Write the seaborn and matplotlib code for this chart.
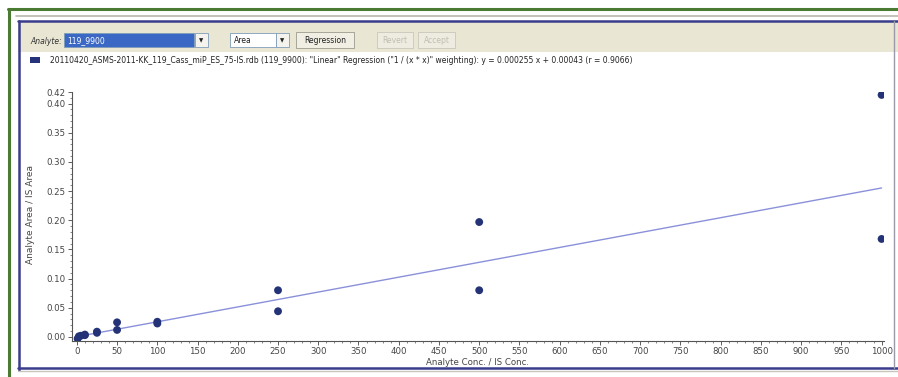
import matplotlib
matplotlib.use("Agg")
import matplotlib.pyplot as plt
from matplotlib.patches import Rectangle
from matplotlib.lines import Line2D
import numpy as np
import pandas as pd
import seaborn as sns

# ---- data ----
conc = [1, 2.5, 5, 10, 10, 25, 25, 50, 50, 100, 100, 250, 250, 500, 500, 1000, 1000]
ratio = [-0.003, 0.001, 0.002, 0.003, 0.004, 0.007, 0.009, 0.025, 0.012, 0.026, 0.023,
         0.080, 0.044, 0.197, 0.080, 0.415, 0.168]
fit_slope = 0.000255
fit_intercept = 0.00043
fit_range = [0, 1000]
x_ticks = list(range(0, 1001, 50))
y_ticks = [0.00, 0.05, 0.10, 0.15, 0.20, 0.25, 0.30, 0.35, 0.40, 0.42]
legend_text = ('20110420_ASMS-2011-KK_119_Cass_miP_ES_75-IS.rdb (119_9900): "Linear" Regression '
               '("1 / (x * x)" weighting): y = 0.000255 x + 0.00043 (r = 0.9066)')

sns.set_theme(style="white")
plt.rcParams['font.family'] = ['DejaVu Sans']

W, H = 898, 377
fig = plt.figure(figsize=(W / 100, H / 100), dpi=100)
fig.patch.set_facecolor("white")

def fx(x):
    return x / W

def fy(y):
    return 1 - y / H

def rect(x0, y0, x1, y1, fc, ec="none", lw=0.0, z=0):
    fig.patches.append(Rectangle((fx(x0), fy(y1)), fx(x1) - fx(x0), fy(y0) - fy(y1),
                                 transform=fig.transFigure, facecolor=fc, edgecolor=ec,
                                 linewidth=lw, zorder=z))

def hline(x0, x1, y, c, lw):
    fig.lines.append(Line2D([fx(x0), fx(x1)], [fy(y), fy(y)], transform=fig.transFigure,
                            color=c, linewidth=lw))

def vline(x, y0, y1, c, lw):
    fig.lines.append(Line2D([fx(x), fx(x)], [fy(y0), fy(y1)], transform=fig.transFigure,
                            color=c, linewidth=lw))

green = "#4b7a32"
navy = "#3a3d8c"
beige = "#e9e6d4"

# outer green frame
hline(8, 898, 9, green, 2.2)
vline(9, 9, 377, green, 2.2)
# window
hline(16, 898, 16, "#b9b7ab", 1.2)
rect(18, 21, 898, 52, beige)
hline(18, 898, 21, navy, 1.8)
vline(19, 21, 370, navy, 1.8)
hline(18, 898, 368, navy, 1.8)
hline(18, 898, 371, "#c8c6bc", 1.0)
vline(894, 21, 368, "#9a9aa8", 1.0)

# toolbar widgets
fig.text(fx(30), fy(41), "Analyte:", fontsize=5.5, va="center", ha="left", color="#333333",
         style="italic")
rect(64, 33, 194, 47, "#3b68c4", ec="#7f9db9", lw=0.6)
fig.text(fx(67), fy(40.5), "119_9900", fontsize=5.5, va="center", ha="left", color="white")
rect(195, 33, 208, 47, "#f4f3ee", ec="#7f9db9", lw=0.6)
fig.text(fx(201.5), fy(40.5), "▼", fontsize=4, va="center", ha="center", color="#222222")
rect(230, 33, 276, 47, "white", ec="#7f9db9", lw=0.6)
fig.text(fx(234), fy(40.5), "Area", fontsize=5.5, va="center", ha="left", color="#222222")
rect(276, 33, 289, 47, "#f4f3ee", ec="#7f9db9", lw=0.6)
fig.text(fx(282.5), fy(40.5), "▼", fontsize=4, va="center", ha="center", color="#222222")
rect(296, 32, 354, 48, "#f1efe4", ec="#9c9a8c", lw=0.6)
fig.text(fx(325), fy(40.5), "Regression", fontsize=5.5, va="center", ha="center", color="#222222")
rect(377, 32, 413, 48, "#eeece1", ec="#c9c7ba", lw=0.6)
fig.text(fx(395), fy(40.5), "Revert", fontsize=5.5, va="center", ha="center", color="#c0bdb0")
rect(418, 32, 455, 48, "#eeece1", ec="#c9c7ba", lw=0.6)
fig.text(fx(436.5), fy(40.5), "Accept", fontsize=5.5, va="center", ha="center", color="#c0bdb0")

# legend row
rect(30, 57, 40, 63, "#26337a")
fig.text(fx(50), fy(60.5), legend_text, fontsize=5.5, va="center", ha="left", color="#222222")

# ---- plot ----
ax = fig.add_axes([fx(72), fy(341), fx(884) - fx(72), fy(92) - fy(341)])
ax.set_facecolor("white")

df = pd.DataFrame({"conc": conc, "ratio": ratio})
fit_x = np.array(fit_range, dtype=float)
fit_df = pd.DataFrame({"conc": fit_x, "ratio": fit_slope * fit_x + fit_intercept})

sns.lineplot(data=fit_df, x="conc", y="ratio", ax=ax, color="#8a91da", linewidth=1.0, zorder=2)
sns.scatterplot(data=df, x="conc", y="ratio", ax=ax, color="#243277", s=32, edgecolor="none",
                zorder=3)

ax.set_xlim(-6, 1003)
ax.set_ylim(-0.007, 0.42)
ax.set_xticks(x_ticks)
ax.set_xticklabels([str(t) for t in x_ticks])
ax.set_yticks(y_ticks)
ax.set_yticklabels([f"{t:.2f}" for t in y_ticks])
ax.set_xticks(np.arange(0, 1001, 10), minor=True)
ax.set_yticks(np.arange(0, 0.42, 0.01), minor=True)
ax.tick_params(axis="both", which="major", labelsize=6.2, labelcolor="#444444", length=3,
               width=0.6, color="#444444", direction="out", bottom=True, left=True, pad=1.5)
ax.tick_params(axis="both", which="minor", length=1.5, width=0.5, color="#555555",
               direction="out", bottom=True, left=True)
for side in ["top", "right"]:
    ax.spines[side].set_visible(False)
for side in ["left", "bottom"]:
    ax.spines[side].set_color("#555555")
    ax.spines[side].set_linewidth(0.8)
ax.grid(False)
ax.set_xlabel("")
ax.set_ylabel("")

fig.text(fx(478), fy(362.5), "Analyte Conc. / IS Conc.", fontsize=6.2, ha="center", va="center",
         color="#444444")
fig.text(fx(31), fy(215), "Analyte Area / IS Area", fontsize=6.5, ha="center", va="center",
         rotation=90, color="#444444")

fig.savefig("out.png", dpi=100)
